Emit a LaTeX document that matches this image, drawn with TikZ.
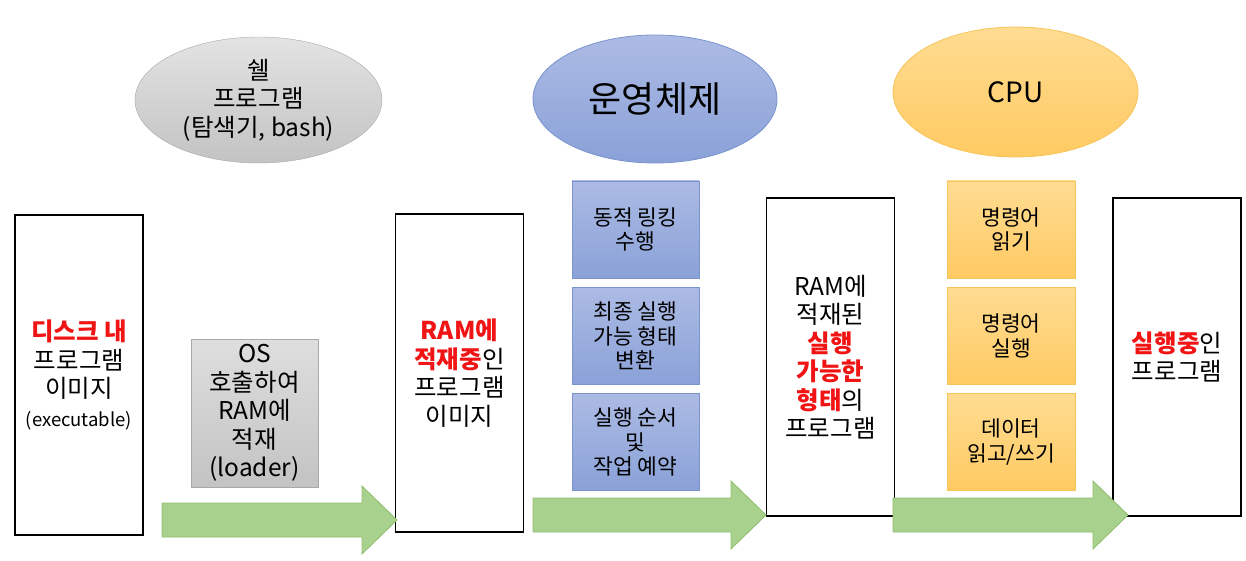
\documentclass[tikz,border=0pt]{standalone}
\usepackage{fontspec}
\setmainfont{Noto Sans CJK KR}
\usetikzlibrary{shapes.geometric,shadings}
\definecolor{grayTop}{HTML}{E3E3E3}
\definecolor{grayBot}{HTML}{C3C3C3}
\definecolor{grayLine}{HTML}{A8A8A8}
\definecolor{blueTop}{HTML}{ACBBE4}
\definecolor{blueBot}{HTML}{8AA1D8}
\definecolor{blueLine}{HTML}{7A93CF}
\definecolor{orangeTop}{HTML}{FFDC92}
\definecolor{orangeBot}{HTML}{FFCA62}
\definecolor{orangeLine}{HTML}{F7C45A}
\definecolor{flowGreen}{HTML}{A9D18E}
\definecolor{flowLine}{HTML}{8DBE6F}
\definecolor{hlRed}{HTML}{F01414}
\newcommand{\hl}[1]{{\color{hlRed}\bfseries #1}}

\begin{document}
\begin{tikzpicture}[x=1pt,y=-1pt,
    txt/.style={font=\fontsize{24.5}{28.5}\selectfont,align=center,inner sep=0pt},
    membox/.style={txt,draw=black,line width=1.2pt,fill=white,minimum width=128pt,minimum height=318pt},
    stepcell/.style={font=\fontsize{21.5}{24.5}\selectfont,align=center,inner sep=0pt,line width=.8pt,
      minimum width=127pt,minimum height=97pt},
    oscell/.style={stepcell,draw=blueLine,top color=blueTop,bottom color=blueBot},
    cpucell/.style={stepcell,draw=orangeLine,top color=orangeTop,bottom color=orangeBot},
    flow/.style={fill=flowGreen,draw=flowLine,line width=.8pt}]
  \useasboundingbox (0,0) rectangle (1246,561);
  % actors on top
  \node[txt,ellipse,draw=grayLine,top color=grayTop,bottom color=grayBot,
    minimum width=247pt,minimum height=126pt] (shell) at (258.5,100) {쉘\\프로그램\\(탐색기, bash)};
  \node[txt,ellipse,draw=blueLine,top color=blueTop,bottom color=blueBot,line width=.8pt,
    minimum width=244pt,minimum height=128pt,font=\fontsize{36}{42}\selectfont] (os) at (655,99) {운영체제};
  \node[txt,ellipse,draw=orangeLine,top color=orangeTop,bottom color=orangeBot,line width=.8pt,
    minimum width=245pt,minimum height=130pt,font=\fontsize{28}{34}\selectfont] (cpu) at (1015.5,92) {CPU};
  % program states
  \node[membox,minimum height=320pt] (disk) at (79,375)
    {\hl{디스크 내}\\프로그램\\이미지\\{\fontsize{18.5}{22}\selectfont (executable)}};
  \node[membox] (loading) at (459.5,373) {\hl{RAM에}\\\hl{적재중}인\\프로그램\\이미지};
  \node[membox] (ready) at (830.5,357) {RAM에\\적재된\\\hl{실행}\\\hl{가능한}\\\hl{형태}의\\프로그램};
  \node[membox] (running) at (1177,357) {\hl{실행중}인\\프로그램};
  % what each actor does
  \node[txt,draw=grayLine,top color=grayTop!85!grayBot,bottom color=grayBot,line width=.8pt,
    minimum width=127pt,minimum height=148pt] (loader) at (254.5,413) {OS\\호출하여\\RAM에\\적재\\(loader)};
  \foreach \yc/\lbl/\nm in {229.5/{동적 링킹\\수행}/link,336/{최종 실행\\가능 형태\\변환}/convert,442/{실행 순서\\및\\작업 예약}/sched}
    \node[oscell] (\nm) at (635.5,\yc) {\lbl};
  \foreach \yc/\lbl/\nm in {229.5/{명령어\\읽기}/fetch,336/{명령어\\실행}/exec,442/{데이터\\읽고/쓰기}/rw}
    \node[cpucell,minimum width=128pt] (\nm) at (1011,\yc) {\lbl};
  % block arrows
  \foreach \xa/\xb/\ym in {162/397/520,533/766/515,893/1128/515}
    \filldraw[flow] (\xa,\ym-17) -- (\xb-35,\ym-17) -- (\xb-35,\ym-34) -- (\xb,\ym)
      -- (\xb-35,\ym+34) -- (\xb-35,\ym+17) -- (\xa,\ym+17) -- cycle;
\end{tikzpicture}
\end{document}
